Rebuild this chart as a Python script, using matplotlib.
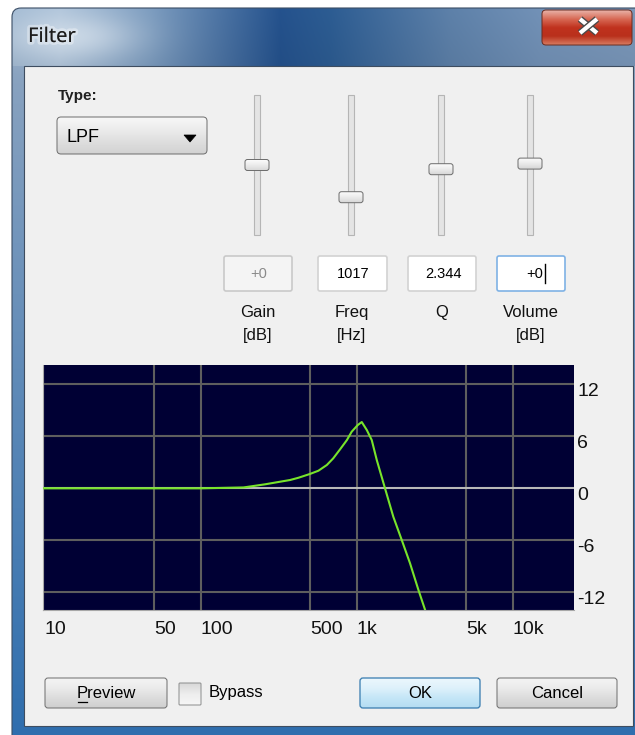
import numpy as np
import matplotlib
matplotlib.use("Agg")
import matplotlib.pyplot as plt
from matplotlib.patches import FancyBboxPatch, Rectangle, Polygon
from matplotlib.colors import LinearSegmentedColormap, to_rgb
import matplotlib.patheffects as pe
from matplotlib.transforms import ScaledTranslation

plt.rcParams['font.family'] = ['Liberation Sans', 'DejaVu Sans']

# ---------------- data ----------------
freq_hz = [9, 100, 188, 258, 322, 374, 423, 500, 568, 643, 707, 782, 865, 928,
           1015, 1077, 1160, 1248, 1344, 1518, 1716, 1944, 2197, 2483, 2740, 3000]
gain_db = [0, 0, 0.1, 0.46, 0.76, 0.96, 1.22, 1.65, 2.03, 2.69, 3.46, 4.5, 5.57, 6.53,
           7.3, 7.65, 6.73, 5.57, 3.27, 0, -3.28, -5.97, -8.66, -11.7, -14.0, -16.1]
x_ticks = [10, 50, 100, 500, 1000, 5000, 10000]
x_tick_labels = ['10', '50', '100', '500', '1k', '5k', '10k']
y_ticks = [-12, -6, 0, 6, 12]
y_tick_labels = ['-12', '-6', '0', '6', '12']

slider_names = ['Gain\n[dB]', 'Freq\n[Hz]', 'Q', 'Volume\n[dB]']
slider_values = ['+0', '1017', '2.344', '+0']
slider_pos = [0.50, 0.73, 0.53, 0.49]   # thumb position from top of track
filter_type = 'LPF'

# ---------------- figure ----------------
W, H = 635, 735
fig = plt.figure(figsize=(6.35, 7.35), dpi=100, facecolor='white')
bg = fig.add_axes([0, 0, 1, 1])
bg.set_axis_off()
PX = 0.72


def hexrgb(c):
    return np.array(to_rgb(c))


def grad_box(x0, y0, x1, y1, colors, edge, r=3, lw=1, z=2):
    patch = FancyBboxPatch((x0, y0), x1 - x0, y1 - y0,
                           boxstyle=f"round,pad=0,rounding_size={r}",
                           fc='none', ec=edge, lw=lw * PX, zorder=z + 1)
    bg.add_patch(patch)
    cmap = LinearSegmentedColormap.from_list('g', colors)
    grad = np.linspace(0, 1, 64)[:, None]
    im = bg.imshow(grad, extent=[x0, x1, y1, y0], cmap=cmap, aspect='auto',
                   zorder=z, interpolation='bilinear')
    im.set_clip_path(patch)
    return patch


# window frame image
xs = np.arange(12, 636)
ys = np.arange(8, 736)
keys_x = [12, 60, 150, 280, 330, 450, 540, 635]
keys_c = ['#9cb3cb', '#a6bbd1', '#7695b7', '#234f88', '#2b598d', '#5a7ca3', '#6e8cb0', '#7692b3']
kc = np.array([hexrgb(c) for c in keys_c])
row = np.stack([np.interp(xs, keys_x, kc[:, i]) for i in range(3)], axis=-1)
img = np.zeros((len(ys), len(xs), 3))
XX, YY = np.meshgrid(xs, ys)
for j, y in enumerate(ys):
    if y < 66:
        img[j] = row * (1.04 - 0.06 * (y - 8) / 58)
    else:
        t = (y - 66) / (735 - 66)
        img[j] = (1 - t) * hexrgb('#8aa3c0') + t * hexrgb('#2f6eae')
glow = np.exp(-((XX - 70) ** 2 / (2 * 45 ** 2) + (YY - 36) ** 2 / (2 * 16 ** 2)))
glow = glow[..., None] * 0.75
img = img * (1 - glow) + hexrgb('#d6e1ec') * glow
img = np.clip(img, 0, 1)
frame_patch = FancyBboxPatch((12, 8), 640, 760, boxstyle="round,pad=0,rounding_size=9",
                             fc='none', ec='#3b4e66', lw=0.8, zorder=1.1)
bg.add_patch(frame_patch)
im = bg.imshow(img, extent=[12, 636, 736, 8], aspect='auto', zorder=1, interpolation='bilinear')
im.set_clip_path(frame_patch)

# title
bg.text(28, 37, 'Filter', fontsize=14.5, family=['Noto Sans', 'DejaVu Sans'], color='#1b1b1b',
        va='center', ha='left', zorder=5,
        path_effects=[pe.withStroke(linewidth=4, foreground=(1, 1, 1, 0.35))])

# close button
grad_box(542, 10, 632, 45, ['#e9b3a8', '#d86a55', '#c0321e', '#b9301c', '#d87b60'],
         '#6b2d22', r=4, lw=1, z=3)
for (a, b), (c, d) in [((580, 19), (597, 33)), ((580, 33), (597, 19))]:
    bg.plot([a, c], [b, d], color='white', lw=3.0, solid_capstyle='butt', zorder=6,
            path_effects=[pe.Stroke(linewidth=5, foreground='#4a4a4a'), pe.Normal()])

# client area
bg.add_patch(Rectangle((24, 66), 609, 660, fc='#f0f0f0', ec='#3e4d60', lw=0.8, zorder=2))

# Type dropdown
bg.text(58, 96, 'Type:', fontsize=11, fontweight='bold', color='#202020', va='center',
        ha='left', zorder=5)
grad_box(57, 117, 207, 154, ['#f7f7f7', '#ececec', '#dedede', '#d2d2d2'], '#707070', r=4, z=3)
bg.text(67, 137, filter_type, fontsize=13, color='black', va='center', ha='left', zorder=5)
bg.add_patch(Polygon([[184, 135], [196, 135], [190, 142]], closed=True, fc='black',
                     ec='black', lw=0.5, zorder=5))

# sliders
slider_x = [257, 351, 441, 530]
box_x = [(224, 292), (318, 387), (408, 476), (497, 565)]
track_top, track_bot = 95, 235
for i in range(4):
    sx = slider_x[i]
    bg.add_patch(Rectangle((sx - 3, track_top), 6, track_bot - track_top, fc='#e4e4e4',
                           ec='#b5b5b5', lw=0.8, zorder=3))
    ty = track_top + slider_pos[i] * (track_bot - track_top)
    grad_box(sx - 12, ty - 5.5, sx + 12, ty + 5.5, ['#fbfbfb', '#eaeaea', '#d5d5d5'],
             '#6f6f6f', r=2.5, z=4)
    # edit box
    bx0, bx1 = box_x[i]
    if i == 0:
        fc, ec, tc = '#f4f4f4', '#c9c9c9', '#8a8a8a'
    elif i == 3:
        fc, ec, tc = 'white', '#7fb2e5', 'black'
    else:
        fc, ec, tc = 'white', '#d2d2d2', 'black'
    bg.add_patch(FancyBboxPatch((bx0, 256), bx1 - bx0, 35, boxstyle="round,pad=0,rounding_size=2",
                                fc=fc, ec=ec, lw=1.2, zorder=3))
    vx = (bx0 + bx1) / 2 + (4 if i == 3 else 1)
    bg.text(vx, 273.5, slider_values[i], fontsize=10.5, color=tc, ha='center',
            va='center', zorder=5)
    # label
    parts = slider_names[i].split('\n')
    for k, p in enumerate(parts):
        bg.text(sx + 1, 312 + 23 * k, p, fontsize=12, color='#111111', ha='center',
                va='center', zorder=5)
# caret in volume box
bg.plot([545, 545], [264, 283], color='black', lw=1.0, zorder=6)

# bottom buttons
grad_box(45, 678, 167, 708, ['#f4f4f4', '#ebebeb', '#dcdcdc', '#cfcfcf'], '#707070', r=3, z=3)
bg.text(106, 693, 'Preview', fontsize=12, color='black', ha='center', va='center', zorder=5)
bg.plot([77.5, 87], [701.5, 701.5], color='black', lw=0.9, zorder=6)
grad_box(179, 683, 201, 705, ['#d8d8d8', '#eeeeee', '#f6f6f6'], '#8e8f8f', r=1, z=3)
bg.text(209, 693, 'Bypass', fontsize=12, color='black', ha='left', va='center', zorder=5)
grad_box(360, 678, 480, 708, ['#ecf7fd', '#def1fb', '#c4e6f7', '#b4dcf2'], '#3c7fb1', r=3,
         lw=1.3, z=3)
bg.text(420, 693, 'OK', fontsize=12, color='black', ha='center', va='center', zorder=5)
grad_box(497, 678, 617, 708, ['#f4f4f4', '#ebebeb', '#dcdcdc', '#cfcfcf'], '#707070', r=3, z=3)
bg.text(557, 693, 'Cancel', fontsize=12, color='black', ha='center', va='center', zorder=5)

bg.set_xlim(0, W)
bg.set_ylim(H, 0)

# ---------------- chart ----------------
ax_l, ax_t, ax_r, ax_b = 43, 365, 574, 610
ax = fig.add_axes([ax_l / W, (H - ax_b) / H, (ax_r - ax_l) / W, (ax_b - ax_t) / H])
ax.set_facecolor('#000034')
ax.set_xscale('log')
ax.set_xlim(9.75, 24700)
ax.set_ylim(-14.04, 14.23)
ax.set_xticks(x_ticks)
ax.set_xticklabels(x_tick_labels)
ax.xaxis.set_minor_locator(matplotlib.ticker.NullLocator())
ax.set_yticks(y_ticks)
ax.set_yticklabels(y_tick_labels)
ax.yaxis.tick_right()
ax.tick_params(axis='both', length=0, labelsize=14, labelcolor='#111111')
ax.tick_params(axis='x', pad=8)
ax.tick_params(axis='y', pad=2.5)
for lab in ax.get_xticklabels():
    lab.set_horizontalalignment('left')
off = ScaledTranslation(0, -0.075, fig.dpi_scale_trans)
for lab in ax.get_yticklabels():
    lab.set_verticalalignment('center')
    lab.set_horizontalalignment('left')
    lab.set_transform(lab.get_transform() + off)

for xv in x_ticks[1:]:
    ax.axvline(xv, color='#5e5e5e', lw=1.5, zorder=1)
for yv in y_ticks:
    ax.axhline(yv, color='#b8b8b8' if yv == 0 else '#5e5e5e', lw=1.5, zorder=1)

ax.plot(freq_hz, gain_db, color='#78e42a', lw=1.5, zorder=3)

for s in ['top', 'right']:
    ax.spines[s].set_visible(False)
for s in ['left', 'bottom']:
    ax.spines[s].set_color('#a8a8a8')
    ax.spines[s].set_linewidth(0.8)

fig.savefig('out.png', dpi=100, facecolor='white')
